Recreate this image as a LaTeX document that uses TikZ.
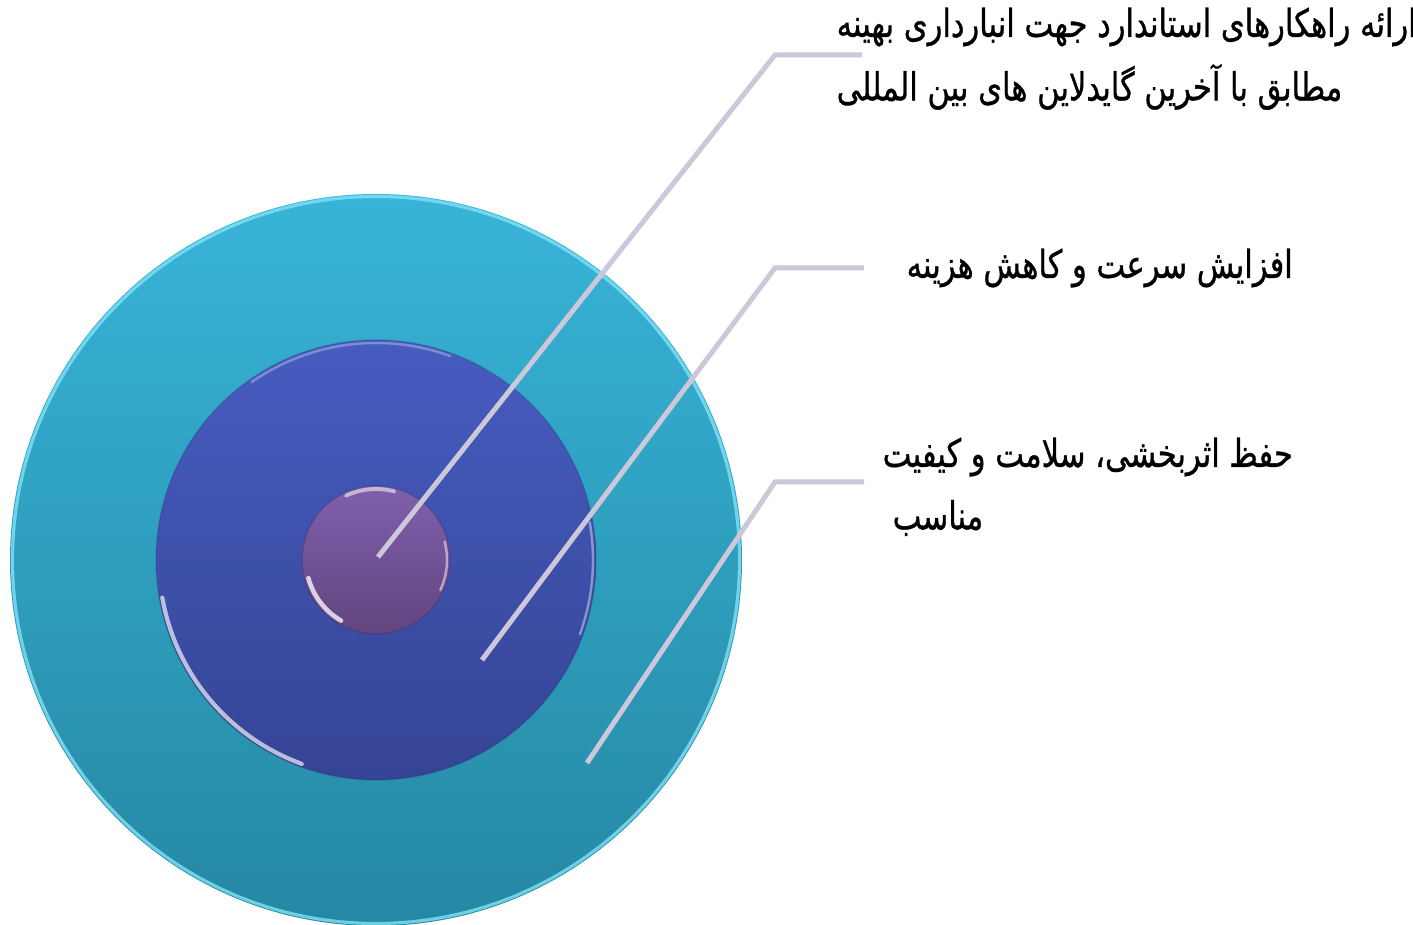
\documentclass[tikz,border=0pt]{standalone}
\usepackage{fontspec}
\newfontfamily\arabicfont[Script=Arabic, FakeStretch=0.79, FakeBold=0.8]{DejaVu Sans}
\TeXXeTstate=1
\definecolor{ringtop}{RGB}{56,180,216}
\definecolor{ringbot}{RGB}{37,136,163}
\definecolor{discetop}{RGB}{70,92,192}
\definecolor{discbot}{RGB}{53,68,148}
\definecolor{coretop}{RGB}{128,96,172}
\definecolor{corebot}{RGB}{98,68,128}
\definecolor{leadgrey}{RGB}{204,200,218}
\definecolor{rimcyan}{RGB}{130,225,245}

\begin{document}
\begin{tikzpicture}[line join=miter]

    \tikzstyle{disc}=[circle, inner sep=0pt]
    \tikzstyle{leader}=[draw=leadgrey, line width=0.05cm]
    \tikzstyle{label}=[anchor=west, inner sep=0pt, font=\fontsize{11}{13}\selectfont\arabicfont]
    \tikzstyle{shine}=[white, line cap=round]
    \def\cx{3.76}
    \def\cy{3.65}

    \clip (0,0) rectangle (14.13,9.25);

    % the three rings
    \node[disc, minimum size=7.32cm, top color=ringtop, bottom color=ringbot] (outer) at (\cx,\cy) {};
    \draw[rimcyan, line width=0.9pt, opacity=0.8] (outer.center) circle (3.635);
    \node[disc, minimum size=4.40cm, top color=discetop, bottom color=discbot,
          draw=discbot!60!black, draw opacity=0.2] (middle) at (\cx,\cy) {};
    \node[disc, minimum size=1.48cm, top color=coretop, bottom color=corebot,
          draw=corebot!60!black, draw opacity=0.25] (core) at (\cx,\cy) {};

    % highlights
    \draw[shine, line width=1.2pt, opacity=0.65] ([shift={(190:2.17)}]middle.center) arc (190:250:2.17);
    \draw[shine, line width=0.7pt, opacity=0.3] ([shift={(70:2.17)}]middle.center) arc (70:125:2.17);
    \draw[shine, line width=0.7pt, opacity=0.4] ([shift={(-20:2.17)}]middle.center) arc (-20:10:2.17);
    \draw[shine, line width=1.3pt, opacity=0.75] ([shift={(195:0.70)}]core.center) arc (195:240:0.70);
    \draw[shine, line width=1.1pt, opacity=0.55] ([shift={(75:0.71)}]core.center) arc (75:115:0.71);
    \draw[shine, line width=0.7pt, opacity=0.5] ([shift={(-25:0.71)}]core.center) arc (-25:15:0.71);

    % leader lines
    \coordinate (p1) at (3.78,3.68);
    \coordinate (k1) at (7.75,8.70);
    \coordinate (e1) at (8.62,8.70);
    \coordinate (p2) at (4.82,2.65);
    \coordinate (k2) at (7.75,6.57);
    \coordinate (e2) at (8.64,6.57);
    \coordinate (p3) at (5.87,1.62);
    \coordinate (k3) at (7.75,4.43);
    \coordinate (e3) at (8.64,4.43);

    \draw[leader] (p1) -- (k1) -- (e1);
    \draw[leader] (p2) -- (k2) -- (e2);
    \draw[leader] (p3) -- (k3) -- (e3);

    % labels
    \node[label] (t1a) at (8.36,8.98) {\arabicfont\beginR ارائه راهکارهای استاندارد جهت انبارداری بهینه\endR};
    \node[label] (t1b) at (8.36,8.38) {\arabicfont\beginR مطابق با آخرین گایدلاین های بین المللی\endR};
    \node[label] (t2) at (9.06,6.57) {\arabicfont\beginR افزایش سرعت و کاهش هزینه\endR};
    \node[label] (t3a) at (8.82,4.68) {\arabicfont\beginR حفظ اثربخشی، سلامت و کیفیت\endR};
    \node[label] (t3b) at (8.92,4.07) {\arabicfont\beginR مناسب\endR};

\end{tikzpicture}
\end{document}
